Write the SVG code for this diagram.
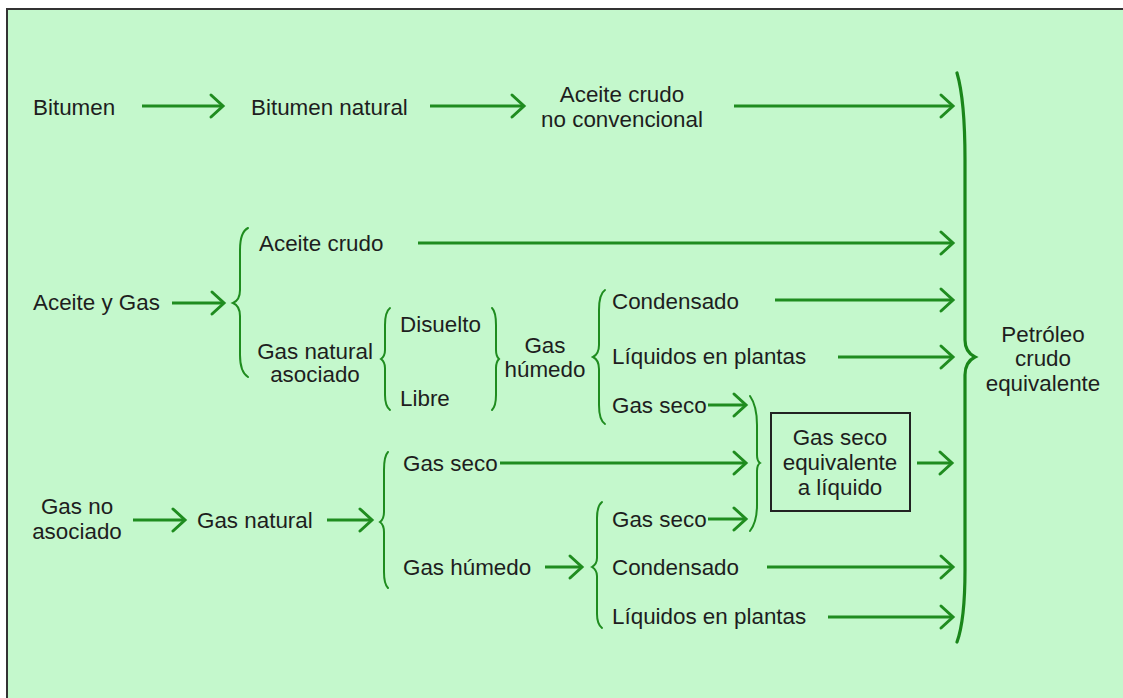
<svg xmlns="http://www.w3.org/2000/svg" width="1123" height="698" viewBox="0 0 1123 698">
<defs>
<style>
.t{font-family:"Liberation Sans",Arial,sans-serif;font-size:22.4px;fill:#1e1e1e;}
.m{text-anchor:middle;}
.a{stroke:#1f8c1f;stroke-width:3;fill:none;marker-end:url(#ah);}
.b{stroke:#1f8c1f;stroke-width:2;fill:none;stroke-linecap:round;}
.bb{stroke:#1a861a;stroke-width:3.2;fill:none;stroke-linecap:round;}
</style>
<marker id="ah" viewBox="-16 -14 20 28" refX="0" refY="0" markerWidth="20" markerHeight="28" markerUnits="userSpaceOnUse" orient="auto">
<path d="M-12,-11 L0,0 L-12,11" fill="none" stroke="#1f8c1f" stroke-width="3" stroke-linecap="round"/>
</marker>
</defs>
<rect x="0" y="0" width="1123" height="698" fill="#ffffff"/>
<rect x="7" y="9" width="1116" height="689" fill="#c4f8cc"/>
<path d="M7,698 L7,9 L1123,9" fill="none" stroke="#333" stroke-width="2"/>

<g id="connectors">
<line class="a" x1="142" y1="106" x2="223" y2="106"/>
<line class="a" x1="430" y1="106" x2="524" y2="106"/>
<line class="a" x1="734" y1="106" x2="953" y2="106"/>
<line class="a" x1="418" y1="243" x2="953" y2="243"/>
<line class="a" x1="172" y1="303" x2="224" y2="303"/>
<line class="a" x1="775" y1="300" x2="953" y2="300"/>
<line class="a" x1="838" y1="357" x2="953" y2="357"/>
<line class="a" x1="708" y1="405" x2="746" y2="405"/>
<line class="a" x1="500" y1="463" x2="746" y2="463"/>
<line class="a" x1="917" y1="463" x2="952" y2="463"/>
<line class="a" x1="133" y1="520" x2="185" y2="520"/>
<line class="a" x1="327" y1="520" x2="372" y2="520"/>
<line class="a" x1="708" y1="519" x2="746" y2="519"/>
<line class="a" x1="545" y1="567" x2="582" y2="567"/>
<line class="a" x1="767" y1="567" x2="953" y2="567"/>
<line class="a" x1="828" y1="617" x2="953" y2="617"/>
<g id="brackets">
<path class="b" d="M248,228 Q240,232 240,250 L240,290 Q240,300 233,303 Q240,306 240,316 L240,355 Q240,372 248,377"/>
<path class="b" d="M390,308 Q385,312 385,325 L385,350 Q385,356 381,359 Q385,362 385,368 L385,395 Q385,406 390,410"/>
<path class="b" d="M492,308 Q496,312 496,325 L496,350 Q496,356 499,359 Q496,362 496,368 L496,395 Q496,406 492,410"/>
<path class="b" d="M605,290 Q599,294 599,310 L599,345 Q599,354 593,357 Q599,360 599,369 L599,405 Q599,420 605,424"/>
<path class="b" d="M388,452 Q384,456 384,470 L384,512 Q384,519 380,522 Q384,525 384,532 L384,572 Q384,584 388,588"/>
<path class="b" d="M602,502 Q597,506 597,518 L597,558 Q597,564 592,567 Q597,570 597,576 L597,614 Q597,624 602,628"/>
<path class="b" d="M750,396 Q757,406 757,425 L757,455 Q757,461 760,463 Q757,465 757,471 L757,505 Q757,522 750,531"/>
<path class="bb" d="M957,73 Q965,100 965,160 L965,340 Q965,352 975,357 Q965,362 965,375 L965,570 Q965,620 957,642"/>
</g>
</g>

<g id="n-bitumen"><text class="t" x="33" y="115">Bitumen</text></g>
<g id="n-bitumen-natural"><text class="t" x="251" y="115">Bitumen natural</text></g>
<g id="n-aceite-no-conv"><text class="t m" x="622" y="102">Aceite crudo</text><text class="t m" x="622" y="127">no convencional</text></g>
<g id="n-aceite-y-gas"><text class="t" x="33" y="310">Aceite y Gas</text></g>
<g id="n-aceite-crudo"><text class="t" x="259" y="251">Aceite crudo</text></g>
<g id="n-gas-nat-asoc"><text class="t m" x="315" y="359">Gas natural</text><text class="t m" x="315" y="382">asociado</text></g>
<g id="n-disuelto"><text class="t" x="400" y="332">Disuelto</text></g>
<g id="n-libre"><text class="t" x="400" y="406">Libre</text></g>
<g id="n-gas-humedo-1"><text class="t m" x="545" y="353">Gas</text><text class="t m" x="545" y="377">húmedo</text></g>
<g id="n-condensado-1"><text class="t" x="612" y="309">Condensado</text></g>
<g id="n-liquidos-1"><text class="t" x="612" y="364">Líquidos en plantas</text></g>
<g id="n-gas-seco-1"><text class="t" x="612" y="413">Gas seco</text></g>
<g id="n-gas-no-asoc"><text class="t m" x="77" y="514">Gas no</text><text class="t m" x="77" y="539">asociado</text></g>
<g id="n-gas-natural"><text class="t" x="197" y="528">Gas natural</text></g>
<g id="n-gas-seco-2"><text class="t" x="403" y="471">Gas seco</text></g>
<g id="n-gas-humedo-2"><text class="t" x="403" y="575">Gas húmedo</text></g>
<g id="n-gas-seco-3"><text class="t" x="612" y="527">Gas seco</text></g>
<g id="n-condensado-2"><text class="t" x="612" y="575">Condensado</text></g>
<g id="n-liquidos-2"><text class="t" x="612" y="624">Líquidos en plantas</text></g>
<g id="n-gas-seco-eq"><rect x="771" y="413" width="139" height="98" fill="none" stroke="#222" stroke-width="2"/><text class="t m" x="840" y="445">Gas seco</text><text class="t m" x="840" y="470">equivalente</text><text class="t m" x="840" y="495">a líquido</text></g>
<g id="n-petroleo"><text class="t m" x="1043" y="342">Petróleo</text><text class="t m" x="1043" y="366">crudo</text><text class="t m" x="1043" y="391">equivalente</text></g>
</svg>
